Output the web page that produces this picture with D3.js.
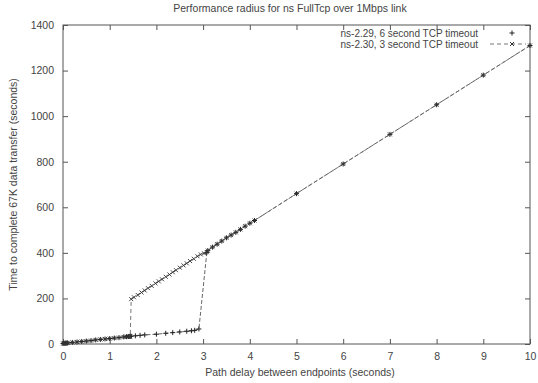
<!DOCTYPE html>
<html>
<head>
<meta charset="UTF-8">
<title>Performance radius for ns FullTcp over 1Mbps link</title>
<script src="https://d3js.org/d3.v7.min.js"></script>
<style>
  body { margin: 0; background: #fff; }
  text { font-family: "Liberation Sans", Arial, sans-serif; fill: #444; }
</style>
</head>
<body>
<svg width="538" height="383"></svg>
<script>
// values: [path delay (s), completion time (s)]
const seriesNames = ["ns-2.29, 6 second TCP timeout", "ns-2.30, 3 second TCP timeout"];

const lowPart = [
  [0, 2], [0.02, 3], [0.04, 3], [0.06, 4], [0.08, 4], [0.1, 5], [0.2, 7], [0.3, 9],
  [0.4, 11], [0.5, 13], [0.6, 15], [0.7, 18], [0.8, 20], [0.9, 22], [1.0, 24],
  [1.1, 26], [1.2, 28], [1.3, 31], [1.36, 32], [1.4, 33], [1.42, 33], [1.44, 34]
];

const highPart = [
  [3.1, 410], [3.2, 425], [3.3, 438], [3.4, 452], [3.5, 466], [3.6, 478], [3.7, 490],
  [3.8, 503], [3.9, 517], [4.0, 530], [4.1, 542], [5, 660], [6, 790], [7, 920],
  [8, 1050], [9, 1180], [10, 1310]
];

const ns229Mid = [
  [1.46, 34], [1.55, 36], [1.65, 38], [1.75, 40], [2.0, 43], [2.2, 47], [2.35, 50],
  [2.5, 53], [2.65, 56], [2.75, 58], [2.82, 60], [2.91, 66], [3.08, 402]
];

const ns230Mid = [
  [1.46, 197], [1.52, 205], [1.6, 215], [1.68, 226], [1.75, 235], [1.82, 245],
  [1.9, 255], [1.98, 266], [2.05, 275], [2.12, 284], [2.2, 295], [2.28, 305],
  [2.35, 315], [2.42, 324], [2.5, 335], [2.58, 345], [2.65, 354], [2.72, 364],
  [2.8, 374], [2.88, 385], [2.95, 393], [3.02, 398], [3.08, 403]
];

const ns229 = lowPart.concat(ns229Mid, highPart);
const ns230 = lowPart.concat(ns230Mid, highPart);

const xTicks = [0, 1, 2, 3, 4, 5, 6, 7, 8, 9, 10];
const yTicks = [0, 200, 400, 600, 800, 1000, 1200, 1400];

const margin = { top: 25, right: 8, bottom: 39, left: 63 },
      width = 538 - margin.left - margin.right,
      height = 383 - margin.top - margin.bottom;

const svg = d3.select("svg");
const g = svg.append("g").attr("transform", `translate(${margin.left},${margin.top})`);

const x = d3.scaleLinear().domain([0, 10]).range([0, width]);
const y = d3.scaleLinear().domain([0, 1400]).range([height, 0]);

// border box
g.append("rect")
  .attr("width", width).attr("height", height)
  .attr("fill", "none").attr("stroke", "#555").attr("stroke-width", 1);

// gnuplot style inward ticks, mirrored
const tl = 5;
g.append("g").attr("transform", `translate(0,${height})`)
  .call(d3.axisBottom(x).tickValues(xTicks).tickSizeInner(-tl).tickSizeOuter(0).tickPadding(9))
  .call(a => a.select(".domain").remove());
g.append("g")
  .call(d3.axisTop(x).tickValues(xTicks).tickSizeInner(-tl).tickSizeOuter(0).tickFormat(""))
  .call(a => a.select(".domain").remove());
g.append("g")
  .call(d3.axisLeft(y).tickValues(yTicks).tickFormat(d3.format("d"))
    .tickSizeInner(-tl).tickSizeOuter(0).tickPadding(9))
  .call(a => a.select(".domain").remove());
g.append("g").attr("transform", `translate(${width},0)`)
  .call(d3.axisRight(y).tickValues(yTicks).tickSizeInner(-tl).tickSizeOuter(0).tickFormat(""))
  .call(a => a.select(".domain").remove());

g.selectAll(".tick line").attr("stroke", "#555");
g.selectAll(".tick text").attr("font-size", 10.5).attr("fill", "#444")
  .attr("font-family", "Liberation Sans, Arial, sans-serif");

const line = d3.line().x(d => x(d[0])).y(d => y(d[1]));

// ns-2.29: + points joined by thin dashed line
g.append("path").datum(ns229)
  .attr("d", line).attr("fill", "none")
  .attr("stroke", "#555").attr("stroke-width", 0.9).attr("stroke-dasharray", "4,2");
// ns-2.30: x points joined by dashed line
g.append("path").datum(ns230)
  .attr("d", line).attr("fill", "none")
  .attr("stroke", "#666").attr("stroke-width", 0.9).attr("stroke-dasharray", "4,3");

const plus = (sel, s) => sel.attr("d", `M${-s},0H${s}M0,${-s}V${s}`);
const cross = (sel, s) => sel.attr("d", `M${-s},${-s}L${s},${s}M${-s},${s}L${s},${-s}`);

g.append("g").selectAll("path").data(ns229).join("path")
  .attr("transform", d => `translate(${x(d[0])},${y(d[1])})`)
  .call(plus, 2.5).attr("stroke", "#222").attr("stroke-width", 1).attr("fill", "none");
g.append("g").selectAll("path").data(ns230).join("path")
  .attr("transform", d => `translate(${x(d[0])},${y(d[1])})`)
  .call(cross, 2).attr("stroke", "#333").attr("stroke-width", 0.9).attr("fill", "none");

// legend, top right inside the box
const lg = g.append("g");
seriesNames.forEach((name, i) => {
  const ly = 8 + i * 11;
  lg.append("text").attr("x", width - 52).attr("y", ly).attr("dy", "0.35em")
    .attr("text-anchor", "end").attr("font-size", 10).text(name);
  const sx = width - 18;
  if (i === 0) {
    lg.append("path").attr("transform", `translate(${sx},${ly})`)
      .call(plus, 2.5).attr("stroke", "#222").attr("fill", "none");
  } else {
    lg.append("line").attr("x1", width - 40).attr("x2", width - 4)
      .attr("y1", ly).attr("y2", ly)
      .attr("stroke", "#666").attr("stroke-width", 0.9).attr("stroke-dasharray", "4,3");
    lg.append("path").attr("transform", `translate(${sx},${ly})`)
      .call(cross, 2).attr("stroke", "#333").attr("fill", "none");
  }
});

// titles
svg.append("text").attr("x", 290).attr("y", 12).attr("text-anchor", "middle")
  .attr("font-size", 10.5).text("Performance radius for ns FullTcp over 1Mbps link");
svg.append("text").attr("x", 300).attr("y", 376).attr("text-anchor", "middle")
  .attr("font-size", 10.5).text("Path delay between endpoints (seconds)");
svg.append("text").attr("transform", `translate(17,${margin.top + height / 2}) rotate(-90)`)
  .attr("text-anchor", "middle").attr("font-size", 10.5)
  .text("Time to complete 67K data transfer (seconds)");
</script>
</body>
</html>
